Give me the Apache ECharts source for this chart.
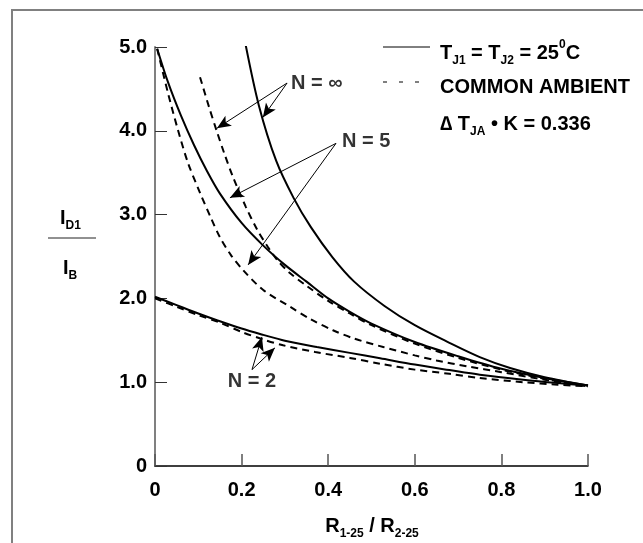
<!DOCTYPE html>
<html><head><meta charset="utf-8">
<script src="https://cdn.jsdelivr.net/npm/echarts@6/dist/echarts.min.js"></script>
<style>html,body{margin:0;padding:0;background:#fff}#c{width:643px;height:543px}</style>
</head><body><div id="c"></div>
<script>
const FONT = '"Liberation Sans", Arial, Helvetica, sans-serif';

const xTickLabels = ['0', '0.2', '0.4', '0.6', '0.8', '1.0'];
const yTickLabels = ['0', '1.0', '2.0', '3.0', '4.0', '5.0'];

// N = infinity, T_J1 = T_J2 (solid)
const solidInfX = [0.208, 0.24, 0.28, 0.32, 0.36, 0.41, 0.46, 0.53, 0.60, 0.68, 0.75, 0.82, 0.90, 1.00];
const solidInfY = [5.06, 4.30, 3.64, 3.20, 2.85, 2.49, 2.20, 1.91, 1.68, 1.47, 1.30, 1.17, 1.06, 0.96];
// N = infinity, common ambient (dashed)
const dashInfX = [0.104, 0.125, 0.143, 0.16, 0.18, 0.21, 0.236, 0.26, 0.282, 0.31, 0.35, 0.40, 0.45, 0.50, 0.60, 0.70, 0.80, 0.90, 1.00];
const dashInfY = [4.64, 4.28, 3.99, 3.73, 3.45, 3.09, 2.82, 2.62, 2.46, 2.31, 2.15, 1.97, 1.82, 1.68, 1.46, 1.29, 1.15, 1.04, 0.95];
// N = 5 solid
const solidN5X = [0.005, 0.03, 0.06, 0.09, 0.12, 0.15, 0.20, 0.25, 0.30, 0.35, 0.40, 0.45, 0.50, 0.60, 0.70, 0.80, 0.90, 1.00];
const solidN5Y = [4.98, 4.58, 4.18, 3.83, 3.52, 3.25, 2.90, 2.63, 2.40, 2.20, 2.00, 1.84, 1.70, 1.48, 1.31, 1.16, 1.05, 0.96];
// N = 5 dashed
const dashN5X = [0.005, 0.03, 0.053, 0.076, 0.104, 0.13, 0.15, 0.175, 0.203, 0.25, 0.312, 0.36, 0.411, 0.46, 0.527, 0.60, 0.65, 0.72, 0.80, 0.90, 1.00];
const dashN5Y = [4.98, 4.45, 4.01, 3.62, 3.26, 2.95, 2.73, 2.52, 2.34, 2.10, 1.90, 1.75, 1.62, 1.52, 1.42, 1.32, 1.26, 1.19, 1.12, 1.03, 0.95];
// N = 2 solid
const solidN2X = [0, 0.05, 0.10, 0.143, 0.20, 0.25, 0.30, 0.374, 0.45, 0.52, 0.60, 0.68, 0.75, 0.85, 0.93, 1.00];
const solidN2Y = [2.02, 1.92, 1.82, 1.74, 1.64, 1.565, 1.495, 1.42, 1.35, 1.285, 1.21, 1.145, 1.09, 1.03, 0.99, 0.96];
// N = 2 dashed
const dashN2X = [0, 0.05, 0.10, 0.15, 0.20, 0.25, 0.296, 0.37, 0.45, 0.52, 0.60, 0.68, 0.75, 0.85, 0.93, 1.00];
const dashN2Y = [2.00, 1.90, 1.80, 1.71, 1.60, 1.51, 1.44, 1.36, 1.29, 1.22, 1.15, 1.10, 1.05, 1.00, 0.97, 0.95];

// annotations (data units)
const annotTexts = ['N = \u221E', 'N = 5', 'N = 2'];
const annotPos = [[0.314, 4.57], [0.432, 3.87], [0.224, 1.01]];
const arrowFrom = [[0.305, 4.57], [0.305, 4.57], [0.418, 3.85], [0.418, 3.85], [0.224, 1.15], [0.224, 1.15]];
const arrowTo = [[0.143, 4.03], [0.249, 4.16], [0.173, 3.20], [0.215, 2.40], [0.247, 1.54], [0.277, 1.41]];

function pairs(xs, ys) { return xs.map((x, i) => [x, ys[i]]); }

function curve(name, xs, ys, dashed) {
  return {
    name, type: 'line', data: pairs(xs, ys), smooth: 0.3,
    showSymbol: false, symbol: 'none', silent: true, animation: false,
    lineStyle: { color: '#000', width: 2, type: dashed ? [7, 5] : 'solid' },
    z: 3
  };
}

const bold = { fontFamily: FONT, fontWeight: 'bold', color: '#000' };
const richStyles = {
  m: { fontFamily: FONT, fontWeight: 'bold', fontSize: 20, lineHeight: 28, fill: '#000', color: '#000' },
  s: { fontFamily: FONT, fontWeight: 'bold', fontSize: 12, lineHeight: 12, verticalAlign: 'bottom', fill: '#000', color: '#000' },
  p: { fontFamily: FONT, fontWeight: 'bold', fontSize: 12, lineHeight: 12, verticalAlign: 'top', fill: '#000', color: '#000' }
};

function rtext(x, y, text, align) {
  return {
    type: 'text', x, y, silent: true,
    style: { text, textAlign: align || 'left', textVerticalAlign: 'middle', rich: richStyles,
      font: 'bold 20px ' + FONT, fill: '#000' }
  };
}

const chart = echarts.init(document.getElementById('c'), null, { renderer: 'canvas' });
chart.setOption({
  backgroundColor: '#fff',
  animation: false,
  grid: { left: 155, right: 55, top: 47, bottom: 77, containLabel: false, outerBoundsMode: 'none' },
  xAxis: {
    type: 'value', min: 0, max: 1, interval: 0.2,
    axisLine: { show: true, lineStyle: { color: '#000', width: 1.5 } },
    axisTick: { show: true, inside: true, length: 12, lineStyle: { color: '#555', width: 1.5 } },
    splitLine: { show: false },
    axisLabel: { ...bold, fontSize: 20, margin: 14,
      formatter: (v) => xTickLabels[Math.round(v / 0.2)] }
  },
  yAxis: {
    type: 'value', min: 0, max: 5, interval: 1,
    axisLine: { show: true, lineStyle: { color: '#808080', width: 2 } },
    axisTick: { show: true, inside: true, length: 12, lineStyle: { color: '#333', width: 1 } },
    splitLine: { show: false },
    axisLabel: { ...bold, fontSize: 20, margin: 8,
      formatter: (v) => yTickLabels[Math.round(v)] }
  },
  series: [
    curve('solidInf', solidInfX, solidInfY, false),
    curve('dashInf', dashInfX, dashInfY, true),
    curve('solidN5', solidN5X, solidN5Y, false),
    curve('dashN5', dashN5X, dashN5Y, true),
    curve('solidN2', solidN2X, solidN2Y, false),
    curve('dashN2', dashN2X, dashN2Y, true),
    {
      name: 'arrows', type: 'line', data: [], silent: true, animation: false,
      markLine: {
        silent: true, animation: false,
        symbol: ['none', 'arrow'], symbolSize: [9, 14],
        lineStyle: { color: '#000', width: 1, type: 'solid' },
        label: { show: false },
        data: arrowFrom.map((f, i) => [{ coord: f }, { coord: arrowTo[i] }])
      }
    },
    {
      name: 'labels', type: 'scatter', symbolSize: 0, silent: true, animation: false,
      data: annotPos.map((p, i) => ({
        value: p, name: annotTexts[i],
        label: { show: true, position: i < 2 ? 'right' : 'inside', distance: 0,
          formatter: annotTexts[i], ...bold, fontSize: 20 }
      }))
    }
  ],
  graphic: [
    { type: 'rect', silent: true, shape: { x: 12, y: 10, width: 800, height: 700 },
      style: { fill: 'none', stroke: '#808080', lineWidth: 2 } },
    // legend
    { type: 'line', silent: true, shape: { x1: 383, y1: 47, x2: 430, y2: 47 }, style: { stroke: '#000', lineWidth: 1 } },
    { type: 'line', silent: true, shape: { x1: 383, y1: 82, x2: 431, y2: 82 }, style: { stroke: '#000', lineWidth: 1, lineDash: [4, 12] } },
    rtext(440, 53, '{m|T}{s|J1}{m| = T}{s|J2}{m| = 25}{p|0}{m|C}'),
    rtext(440, 87, '{m|COMMON AMBIENT}'),
    rtext(440, 124, '{m|\u2206 T}{s|JA}{m| \u2022 K = 0.336}'),
    // y axis name
    rtext(60, 218, '{m|I}{s|D1}'),
    { type: 'line', silent: true, shape: { x1: 48, y1: 238, x2: 96, y2: 238 }, style: { stroke: '#222', lineWidth: 1 } },
    rtext(63, 268, '{m|I}{s|B}'),
    // x axis name
    rtext(372, 526, '{m|R}{s|1-25}{m| / R}{s|2-25}', 'center')
  ]
});
</script>
</body></html>
